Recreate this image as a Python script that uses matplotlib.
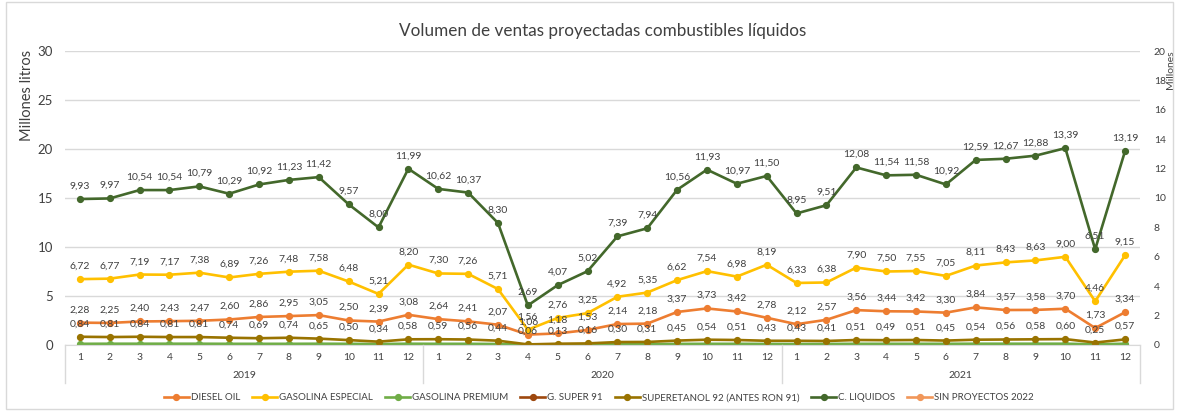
import numpy as np
import matplotlib.pyplot as plt
from matplotlib.patches import Rectangle

plt.rcParams['font.family'] = ['Lato', 'DejaVu Sans']

# categories
years = ['2019', '2020', '2021']
months = [str(m) for m in range(1, 13)] * 3

# series (millones de litros)
diesel = [2.28, 2.25, 2.40, 2.43, 2.47, 2.60, 2.86, 2.95, 3.05, 2.50, 2.39, 3.08,
          2.64, 2.41, 2.07, 1.06, 1.18, 1.53, 2.14, 2.18, 3.37, 3.73, 3.42, 2.78,
          2.12, 2.57, 3.56, 3.44, 3.42, 3.30, 3.84, 3.57, 3.58, 3.70, 1.73, 3.34]
especial = [6.72, 6.77, 7.19, 7.17, 7.38, 6.89, 7.26, 7.48, 7.58, 6.48, 5.21, 8.20,
            7.30, 7.26, 5.71, 1.56, 2.76, 3.25, 4.92, 5.35, 6.62, 7.54, 6.98, 8.19,
            6.33, 6.38, 7.90, 7.50, 7.55, 7.05, 8.11, 8.43, 8.63, 9.00, 4.46, 9.15]
premium = [0.12, 0.13, 0.13, 0.13, 0.13, 0.12, 0.12, 0.12, 0.13, 0.12, 0.10, 0.13,
           0.12, 0.12, 0.10, 0.02, 0.04, 0.05, 0.08, 0.09, 0.11, 0.12, 0.12, 0.11,
           0.10, 0.11, 0.12, 0.12, 0.12, 0.12, 0.13, 0.13, 0.13, 0.13, 0.07, 0.13]
super91 = [np.nan] * 36
superetanol = [0.84, 0.81, 0.84, 0.81, 0.81, 0.74, 0.69, 0.74, 0.65, 0.50, 0.34, 0.58,
               0.59, 0.56, 0.44, 0.06, 0.13, 0.16, 0.30, 0.31, 0.45, 0.54, 0.51, 0.43,
               0.43, 0.41, 0.51, 0.49, 0.51, 0.45, 0.54, 0.56, 0.58, 0.60, 0.25, 0.57]
liquidos = [9.93, 9.97, 10.54, 10.54, 10.79, 10.29, 10.92, 11.23, 11.42, 9.57, 8.00, 11.99,
            10.62, 10.37, 8.30, 2.69, 4.07, 5.02, 7.39, 7.94, 10.56, 11.93, 10.97, 11.50,
            8.95, 9.51, 12.08, 11.54, 11.58, 10.92, 12.59, 12.67, 12.88, 13.39, 6.51, 13.19]
sin_proy = [np.nan] * 36

fig = plt.figure(figsize=(11.79, 4.11), dpi=100)
ax = fig.add_axes([0.0551, 0.1606, 0.9118, 0.7153])
ax2 = ax.twinx()

x = np.arange(36)
lw = 1.9
ms = 4.2
txt_c = '#404040'

def fmt(v):
    return ('%.2f' % v).replace('.', ',')

def draw(axis, vals, color, label, labels=True):
    h, = axis.plot(x, vals, color=color, lw=lw, marker='o', ms=ms, label=label)
    if labels:
        for xi, v in zip(x, vals):
            if not np.isnan(v):
                axis.annotate(fmt(v), (xi, v), xytext=(0, 6), textcoords='offset points',
                              ha='center', va='bottom', fontsize=7.5, color=txt_c)
    return h

h1 = draw(ax, diesel, '#ED7D31', 'DIESEL OIL')
h2 = draw(ax, especial, '#FFC000', 'GASOLINA ESPECIAL')
h3 = draw(ax, premium, '#70AD47', 'GASOLINA PREMIUM', labels=False)
h4 = draw(ax, super91, '#9E480E', 'G. SUPER 91', labels=False)
h5 = draw(ax, superetanol, '#997300', 'SUPERETANOL 92 (ANTES RON 91)')
h7 = draw(ax, sin_proy, '#F1975A', 'SIN PROYECTOS 2022', labels=False)
h6 = draw(ax2, liquidos, '#43682B', 'C. LIQUIDOS')

ax.set_xlim(-0.5, 35.5)
ax.set_ylim(0, 30)
ax.set_yticks(range(0, 31, 5))
ax2.set_ylim(0, 20)
ax2.set_yticks(range(0, 21, 2))
ax.grid(axis='y', color='#D9D9D9', lw=1)
ax.set_axisbelow(True)
for a in (ax, ax2):
    for s in a.spines.values():
        s.set_visible(False)
ax.spines['bottom'].set_visible(True)
ax.spines['bottom'].set_color('#D9D9D9')

ax.tick_params(axis='y', length=0, labelsize=9.5, labelcolor=txt_c, pad=8.5)
ax2.tick_params(axis='y', length=0, labelsize=7.5, labelcolor=txt_c, pad=10)
ax.set_xticks(x)
ax.set_xticklabels(months)
ax.tick_params(axis='x', length=0, labelsize=7.5, labelcolor=txt_c, pad=6)

ax.set_ylabel('Millones litros', fontsize=10.5, color=txt_c)
ax.yaxis.set_label_coords(-0.029, 0.85)
ax2.set_ylabel('Millones', fontsize=7.5, color=txt_c, rotation=90)
ax2.yaxis.set_label_coords(1.024, 0.935)

# second level of x axis: years and separators
tr = ax.get_xaxis_transform()
for i, yr in enumerate(years):
    ax.text(i * 12 + 5.5, -0.105, yr, transform=tr, ha='center', va='center',
            fontsize=7.5, color=txt_c)
for b in [-0.5, 11.5, 23.5, 35.5]:
    ax.plot([b, b], [0, -0.13], transform=tr, color='#D9D9D9', lw=1, clip_on=False)

ax.set_title('Volumen de ventas proyectadas combustibles líquidos', fontsize=12.3,
             color=txt_c, pad=11)

fig.legend([h1, h2, h3, h4, h5, h6, h7],
           [h.get_label() for h in [h1, h2, h3, h4, h5, h6, h7]],
           loc='center', bbox_to_anchor=(0.508, 0.032), ncol=7, frameon=False,
           fontsize=7, handlelength=2.6, columnspacing=1.2, handletextpad=0.2,
           labelcolor=txt_c)

fig.add_artist(Rectangle((0.005, 0.005), 0.99, 0.99, transform=fig.transFigure,
                         fill=False, ec='#D9D9D9', lw=1))

fig.savefig('out.png', dpi=100)
